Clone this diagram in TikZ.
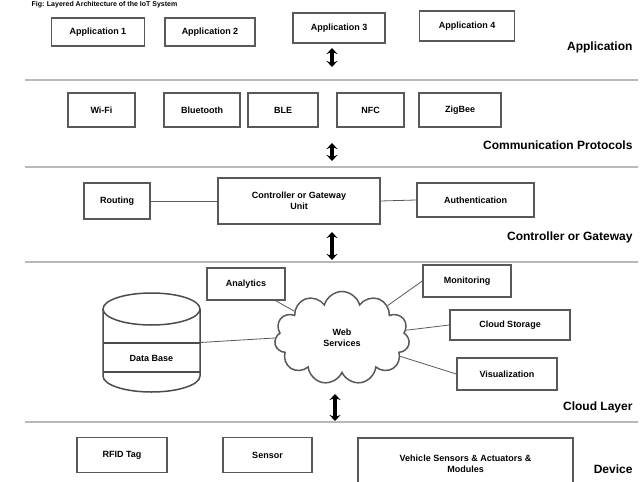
\documentclass[tikz,border=0pt]{standalone}
\usepackage{fontspec}
\setmainfont{Liberation Sans}
\usetikzlibrary{arrows.meta, shapes.symbols}

\begin{document}
\begin{tikzpicture}[
    x=1pt, y=-1pt,
    box/.style={draw=black!65, line width=1.5pt, fill=white, font=\small\bfseries,
                inner sep=2pt, align=center},
    layerline/.style={gray!55, line width=2pt},
    layerarrow/.style={{Stealth[length=6pt, width=11pt]}-{Stealth[length=6pt, width=11pt]},
                       line width=4pt},
    layername/.style={font=\large\bfseries, anchor=east},
    link/.style={gray!70!black, thick},
    dbline/.style={black!70, line width=1.5pt},
]
\useasboundingbox (0,0) rectangle (644,481);

% ===================== TITLE =====================
\node[font=\scriptsize\bfseries, anchor=west] (title) at (28, 5) {Fig: Layered Architecture of the IoT System};

% ===================== SEPARATORS =====================
\foreach \y in {80, 167, 262, 422} {
    \draw[layerline] (25, \y) -- (638, \y);
}

% ===================== APPLICATION =====================
\node[box, minimum width=93, minimum height=28] (app1) at (98, 32)  {Application 1};
\node[box, minimum width=90, minimum height=28] (app2) at (210, 32) {Application 2};
\node[box, minimum width=92, minimum height=30] (app3) at (339, 28) {Application 3};
\node[box, minimum width=95, minimum height=30] (app4) at (467, 26) {Application 4};
\node[layername] (lapp) at (636, 47) {Application};

% ===================== COMMUNICATION =====================
\foreach \n/\x/\w/\t in {wifi/101.5/67/Wi-Fi, bt/202/76/Bluetooth, ble/283/70/BLE,
                         nfc/370.5/67/NFC, zig/460/82/ZigBee} {
    \node[box, minimum width=\w, minimum height=34] (\n) at (\x, 110) {\t};
}
\node[layername] (lcom) at (636, 145) {Communication Protocols};

% ===================== CONTROLLER / GATEWAY =====================
\node[box, minimum width=66, minimum height=36] (route) at (117, 201) {Routing};
\node[box, minimum width=162, minimum height=46] (gate) at (299, 201)
    {Controller or Gateway\\Unit};
\node[box, minimum width=117, minimum height=34] (auth) at (475.5, 200) {Authentication};
\node[layername] (lgate) at (636, 237) {Controller or Gateway};

\draw[link] (route.east) -- (gate.west);
\draw[link] (gate.east) -- (auth.west);

% ===================== CLOUD =====================
% database drum
\node[minimum width=97, minimum height=99, inner sep=0pt] (db) at (151.5, 342.5) {};
\draw[dbline, fill=white] (103, 309) -- (103, 376) arc[start angle=180, end angle=0,
    x radius=48.5, y radius=16] -- (200, 309);
\draw[dbline] (151.5, 309) ellipse[x radius=48.5, y radius=16];
\draw[dbline] (103, 343) -- (200, 343);
\draw[dbline] (103, 372) -- (200, 372);
\node[font=\small\bfseries] (dbtext) at (151.5, 358) {Data Base};

\node[draw=black!65, line width=1.5pt, fill=white, cloud, cloud puffs=11, aspect=1.45,
      minimum width=135, minimum height=93, font=\small\bfseries, align=center]
      (web) at (342, 338) {Web\\Services};

\node[box, minimum width=78, minimum height=32] (ana) at (246, 284) {Analytics};
\node[box, minimum width=88, minimum height=32] (mon) at (467, 281) {Monitoring};
\node[box, minimum width=120, minimum height=30] (store) at (510, 325) {Cloud Storage};
\node[box, minimum width=100, minimum height=32] (vis) at (507, 374) {Visualization};
\node[layername] (lcloud) at (636, 407) {Cloud Layer};

\draw[link] (db.east) -- (web.west);
\draw[link] (ana) -- (web);
\draw[link] (web) -- (mon.west);
\draw[link] (web) -- (store.west);
\draw[link] (web) -- (vis.west);

% ===================== DEVICE =====================
\node[box, minimum width=90, minimum height=35] (rfid) at (122, 455) {RFID Tag};
\node[box, minimum width=89, minimum height=35] (sens) at (267.5, 455) {Sensor};
\node[box, minimum width=215, minimum height=52] (veh) at (465.5, 464)
    {Vehicle Sensors \& Actuators \&\\Modules};
\node[layername] (ldev) at (636, 469) {Device};

% ===================== LAYER ARROWS =====================
\coordinate (a1t) at (332, 48);  \coordinate (a1b) at (332, 67);
\coordinate (a2t) at (332, 143); \coordinate (a2b) at (332, 161);
\coordinate (a3t) at (332, 232); \coordinate (a3b) at (332, 260);
\coordinate (a4t) at (335, 394); \coordinate (a4b) at (335, 421);
\foreach \i in {1,2,3,4} {
    \draw[layerarrow] (a\i t) -- (a\i b);
}

\end{tikzpicture}
\end{document}
